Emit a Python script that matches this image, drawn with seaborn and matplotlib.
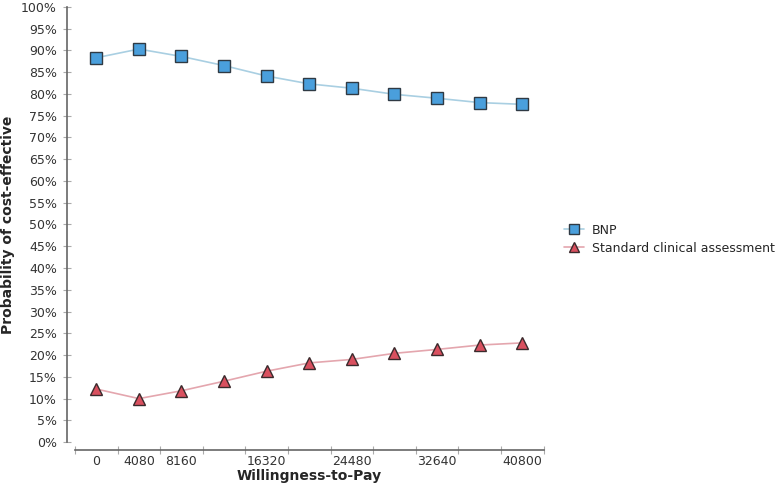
import matplotlib
matplotlib.use("Agg")
import matplotlib.pyplot as plt
import seaborn as sns
import pandas as pd
from matplotlib.ticker import FixedLocator, FuncFormatter

# willingness-to-pay steps and probabilities
wtp = [0, 4080, 8160, 12240, 16320, 20400, 24480, 28560, 32640, 36720, 40800]
bnp = [0.883, 0.903, 0.886, 0.865, 0.841, 0.823, 0.813, 0.799, 0.790, 0.780, 0.776]
standard = [0.122, 0.100, 0.118, 0.140, 0.163, 0.182, 0.190, 0.204, 0.213, 0.223, 0.228]
labeled_ticks = [0, 4080, 8160, 16320, 24480, 32640, 40800]

df = pd.DataFrame({'wtp': wtp, 'BNP': bnp, 'Standard clinical assessment': standard})

sns.set_style('white')
plt.rcParams['font.family'] = ['DejaVu Sans']

fig = plt.figure(figsize=(7.81, 4.88), dpi=100)
ax = fig.add_axes([0.096, 0.094, 0.6, 0.892])

sns.lineplot(data=df, x='wtp', y='BNP', ax=ax, color='#a9cfe2', linewidth=1.2,
             marker='s', markersize=8, markerfacecolor='#4a9fdc',
             markeredgecolor='#2f3a44', markeredgewidth=1.0, label='BNP')
sns.lineplot(data=df, x='wtp', y='Standard clinical assessment', ax=ax, color='#e4a6ae',
             linewidth=1.2, marker='^', markersize=9, markerfacecolor='#d9505f',
             markeredgecolor='#3a2a2c', markeredgewidth=1.0, label='Standard clinical assessment')

step = wtp[1] - wtp[0]
ax.set_xlim(wtp[0] - step / 2, wtp[-1] + step / 2)
ax.set_ylim(0, 1)

ax.set_yticks([i / 20 for i in range(21)])
ax.yaxis.set_major_formatter(FuncFormatter(lambda v, p: f'{round(v * 100)}%'))
ax.set_xticks(labeled_ticks)
ax.set_xticklabels([str(v) for v in labeled_ticks])
ax.xaxis.set_minor_locator(FixedLocator([wtp[0] - step / 2 + step * k for k in range(len(wtp) + 1)]))

ax.tick_params(axis='x', which='major', bottom=True, length=0, pad=3, labelsize=9, labelcolor='#333333')
ax.tick_params(axis='x', which='minor', bottom=True, length=6, direction='inout', color='#aaaaaa', width=0.8)
ax.tick_params(axis='y', left=True, length=6, direction='inout', color='#aaaaaa', width=0.8, pad=4,
               labelsize=9, labelcolor='#333333')

for s in ['top', 'right']:
    ax.spines[s].set_visible(False)
for s in ['left', 'bottom']:
    ax.spines[s].set_color('#666666')
    ax.spines[s].set_linewidth(1.2)
    ax.spines[s].set_position(('outward', 6))

ax.set_xlabel('Willingness-to-Pay', fontsize=10, fontweight='bold', labelpad=1)
ax.set_ylabel('Probability of cost-effective', fontsize=10, fontweight='bold', labelpad=4)

leg = ax.legend(loc='center left', bbox_to_anchor=(0.708, 0.51), bbox_transform=fig.transFigure,
                frameon=False, fontsize=9, handlelength=1.6, handletextpad=0.6,
                labelspacing=0.4, markerscale=0.85)

fig.savefig('out.png', dpi=100)
